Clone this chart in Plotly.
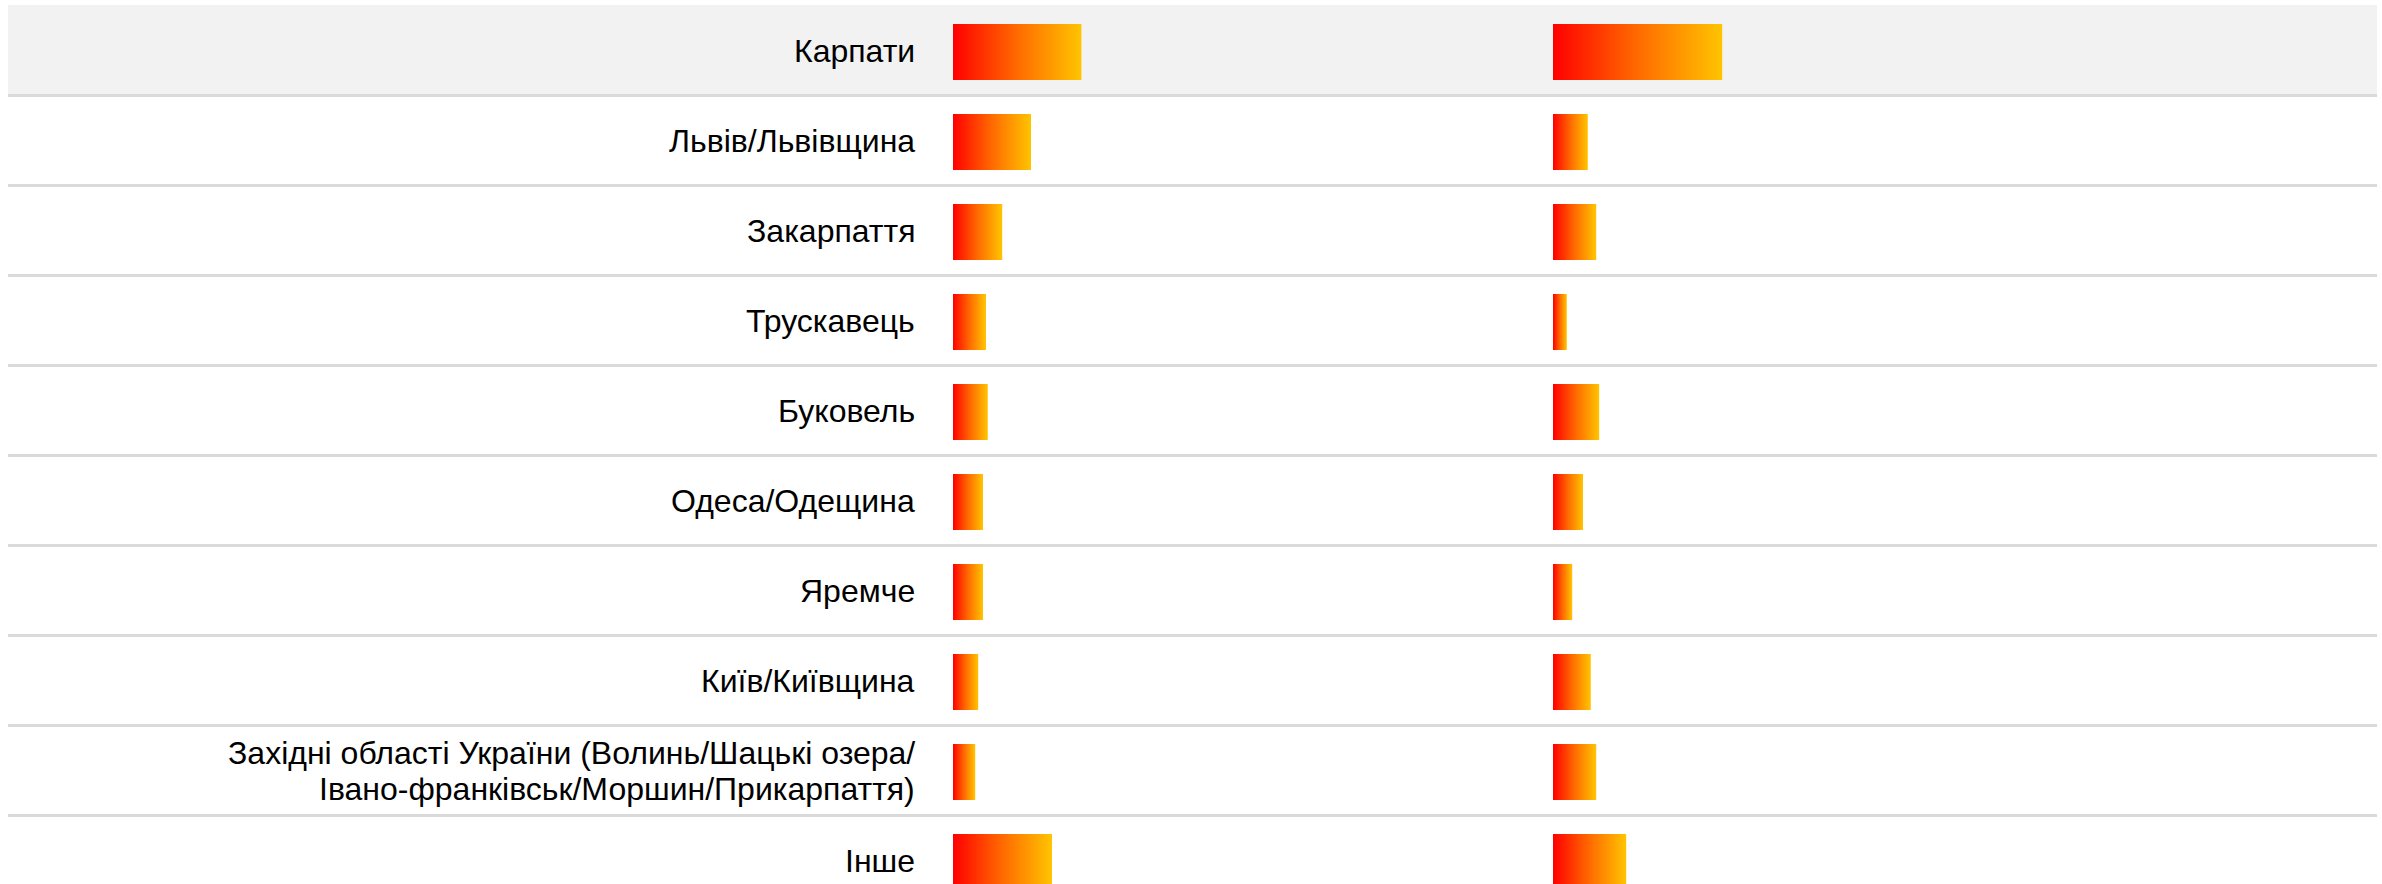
import plotly.graph_objects as go

# ---- data (% of respondents, approx.) ----
categories = [
    "Карпати",
    "Львів/Львівщина",
    "Закарпаття",
    "Трускавець",
    "Буковель",
    "Одеса/Одещина",
    "Яремче",
    "Київ/Київщина",
    "Західні області України (Волинь/Шацькі озера/<br>Івано-франківськ/Моршин/Прикарпаття)",
    "Інше",
]
series_1 = [21.4, 13.0, 8.2, 5.5, 5.8, 5.0, 5.0, 4.2, 3.7, 16.5]
series_2 = [28.2, 5.8, 7.2, 2.3, 7.7, 5.0, 3.2, 6.3, 7.2, 12.2]

# ---- layout constants (page pixels) ----
W, H = 2382, 884
ROW = 90.0
CENTER0 = 52.0
BAR_H = 56.0
COL1_X0, COL2_X0, COL_W = 953.0, 1553.0, 600.0
LABEL_X = 917.0
TABLE_X0, TABLE_X1 = 8.0, 2377.0
FONT = "Liberation Sans, Arial, sans-serif"
GRAD = [[0.0, "#ff0000"], [0.5, "#ff6a00"], [1.0, "#ffc400"]]

y_top = -CENTER0 / ROW
y_bot = (H - CENTER0) / ROW
half = BAR_H / 2 / ROW

fig = go.Figure()

for axis, values in (("x", series_1), ("x2", series_2)):
    for i, v in enumerate(values):
        fig.add_trace(go.Scatter(
            x=[0, v, v, 0, 0],
            y=[i - half, i - half, i + half, i + half, i - half],
            xaxis=axis, yaxis="y",
            mode="none",
            fill="toself",
            fillcolor="#ff6000",
            fillgradient=dict(type="horizontal", colorscale=GRAD),
            hoverinfo="skip",
            showlegend=False,
        ))

shapes = []
# highlighted first row
shapes.append(dict(type="rect", xref="paper", yref="y",
                   x0=TABLE_X0 / W, x1=TABLE_X1 / W,
                   y0=(5 - CENTER0) / ROW, y1=(94 - CENTER0) / ROW,
                   fillcolor="#f2f2f2", line_width=0, layer="below"))
# row dividers
for i in range(len(categories)):
    yy = i + (95.5 - CENTER0) / ROW
    shapes.append(dict(type="line", xref="paper", yref="y",
                       x0=TABLE_X0 / W, x1=TABLE_X1 / W,
                       y0=yy, y1=yy, line=dict(color="#dadada", width=3),
                       layer="below"))

annotations = []
for i, lab in enumerate(categories):
    lines = lab.split("<br>")
    n = len(lines)
    for k, line in enumerate(lines):
        shift = ((n - 1) / 2 - k) * 36.5
        annotations.append(dict(
            xref="paper", yref="y", x=LABEL_X / W, y=i,
            text=line, showarrow=False, xanchor="right", yanchor="middle",
            yshift=shift + 1, align="right",
            font=dict(family=FONT, size=32, color="#000000"),
        ))

hidden = dict(visible=False, showgrid=False, zeroline=False, fixedrange=True)
fig.update_layout(
    width=W, height=H,
    margin=dict(l=0, r=0, t=0, b=0),
    paper_bgcolor="#ffffff", plot_bgcolor="rgba(0,0,0,0)",
    xaxis=dict(domain=[COL1_X0 / W, (COL1_X0 + COL_W) / W], range=[0, 100], **hidden),
    xaxis2=dict(domain=[COL2_X0 / W, (COL2_X0 + COL_W) / W], range=[0, 100],
                anchor="y", **hidden),
    yaxis=dict(range=[y_bot, y_top], **hidden),
    shapes=shapes,
    annotations=annotations,
    showlegend=False,
)

fig.write_html(
    "out.html",
    config={"displayModeBar": False},
    post_script="document.body.style.margin='0px';document.body.style.overflow='hidden';",
)
